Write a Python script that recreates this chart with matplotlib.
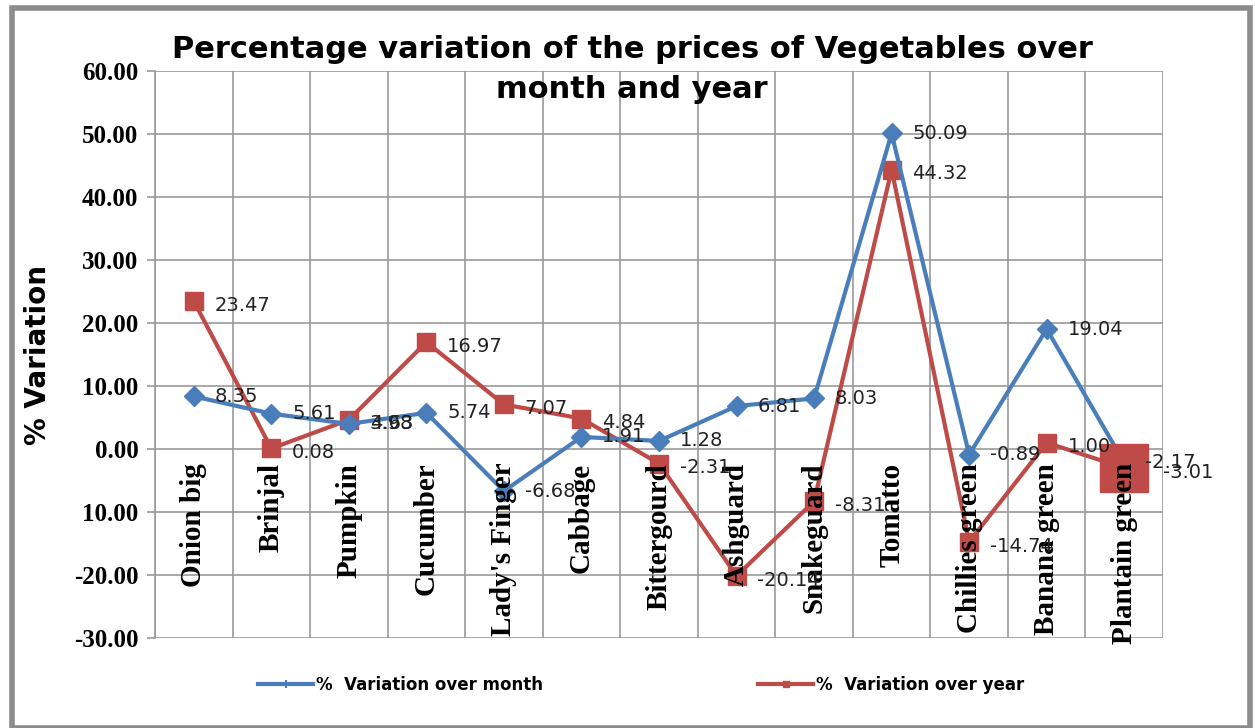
import matplotlib
matplotlib.use("Agg")
import matplotlib.pyplot as plt
from matplotlib.lines import Line2D
from matplotlib.patches import Rectangle
import numpy as np

categories = ["Onion big", "Brinjal", "Pumpkin", "Cucumber", "Lady's Finger", "Cabbage",
              "Bittergourd", "Ashguard", "Snakeguard", "Tomatto", "Chillies green",
              "Banana green", "Plantain green"]
month_vals = [8.35, 5.61, 3.98, 5.74, -6.68, 1.91, 1.28, 6.81, 8.03, 50.09, -0.89, 19.04, -2.17]
year_vals = [23.47, 0.08, 4.63, 16.97, 7.07, 4.84, -2.31, -20.14, -8.31, 44.32, -14.74, 1.00, -3.01]
y_ticks = [60, 50, 40, 30, 20, 10, 0, -10, -20, -30]
y_tick_labels = ["60.00", "50.00", "40.00", "30.00", "20.00", "10.00", "0.00", "10.00", "-20.00", "-30.00"]
series_names = ["%  Variation over month", "%  Variation over year"]

BLUE = "#4A7EBB"
RED = "#BE4B48"

fig = plt.figure(figsize=(12.55, 7.28), dpi=100)
ax = fig.add_axes([155/1255, 1-638/728, (1163-155)/1255, (638-71)/728])

x = np.arange(len(categories))
ax.set_xlim(-0.5, len(categories) - 0.5)
ax.set_ylim(-30, 60)

# grid
for b in np.arange(-0.5, len(categories) + 0.5, 1):
    ax.axvline(b, color="#9a9a9a", lw=1.2, zorder=0)
for t in y_ticks:
    ax.axhline(t, color="#9a9a9a", lw=1.2, zorder=0)
for s in ax.spines.values():
    s.set_visible(False)

ax.plot(x, month_vals, color=BLUE, lw=3, marker="D", ms=10, zorder=3)
ax.plot(x, year_vals, color=RED, lw=3, marker="s", ms=13, zorder=2)
# last point of year series drawn larger
ax.plot([x[-1]], [year_vals[-1]], color=RED, marker="s", ms=34, ls="none", zorder=4)

lab_kw = dict(textcoords="offset points", ha="left", va="center", fontsize=14,
              family="DejaVu Sans", color="#222222", zorder=6)
for xi, v in zip(x, month_vals):
    ax.annotate(f"{v:.2f}", (xi, v), xytext=(15, 0), **lab_kw)
for xi, v in zip(x, year_vals):
    off = 28 if xi == x[-1] else 15
    ax.annotate(f"{v:.2f}", (xi, v), xytext=(off, -3), **lab_kw)

# category labels inside plot area
for xi, c in zip(x, categories):
    ax.text(xi, -2.2, c, rotation=90, ha="center", va="top", fontsize=21,
            family="Liberation Serif", fontweight="bold", zorder=5)

ax.set_xticks([])
ax.set_yticks(y_ticks)
ax.set_yticklabels(y_tick_labels, family="Liberation Serif", fontweight="bold", fontsize=18)
ax.tick_params(axis="y", length=6, width=1.2, color="#9a9a9a", pad=6)
ax.plot([-0.5, -0.5], [-30, 60], color="#9a9a9a", lw=1.2, clip_on=False)

fig.text(38/1255, 1-355/728, "% Variation", rotation=90, ha="center", va="center",
         fontsize=20, fontweight="bold", family="DejaVu Sans")

fig.text(632/1255, 1-50/728, "Percentage variation of the prices of Vegetables over",
         ha="center", va="center", fontsize=22, fontweight="heavy", family="DejaVu Sans")
fig.text(632/1255, 1-90/728, "month and year",
         ha="center", va="center", fontsize=22, fontweight="heavy", family="DejaVu Sans")

handles = [Line2D([], [], color=BLUE, lw=3, marker="+", ms=6, mew=1.5),
           Line2D([], [], color=RED, lw=3, marker="s", ms=5)]
for h, name, xs in zip(handles, series_names, [258, 758]):
    fig.legend([h], [name], loc="center left", bbox_to_anchor=(xs/1255, 1-685/728),
               frameon=False, handlelength=3.3, handletextpad=0.2, borderpad=0, borderaxespad=0,
               prop=dict(family="DejaVu Sans", weight="bold", size=12))

fig.patches.append(Rectangle((12/1255, 0), (1250-12)/1255, (720-8)/728 + 8/728,
                             transform=fig.transFigure, fill=False, ec="#8c8c8c", lw=4))

fig.savefig("out.png", dpi=100)
